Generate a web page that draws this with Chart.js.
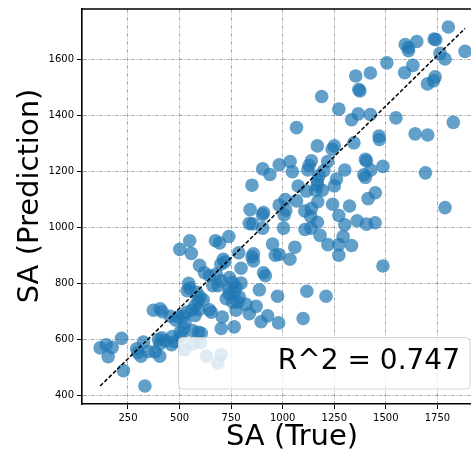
<!DOCTYPE html>
<html>
<head>
<meta charset="utf-8">
<script src="https://cdn.jsdelivr.net/npm/chart.js@4.4.0/dist/chart.umd.min.js"></script>
<style>
  html, body { margin: 0; padding: 0; background: #fff; overflow: hidden; }
  #wrap { width: 490px; height: 458px; }
</style>
</head>
<body>
<div id="wrap"><canvas id="myChart" width="490" height="458"></canvas></div>
<script>
// SA true vs predicted
var trueVals = [
  115, 144, 173, 154, 219, 228, 332, 292, 298, 313, 325, 349, 382, 404, 398, 414, 404, 373, 406, 416,
  455, 465, 477, 433, 482, 494, 501, 549, 557, 515, 526, 533, 520, 503, 509, 544, 550, 537, 583, 599,
  590, 615, 575, 597, 621, 645, 678, 702, 686, 661, 559, 575, 594, 645, 654, 707, 702, 563, 591, 605,
  674, 694, 739, 742, 758, 742, 774, 739, 766, 726, 790, 782, 765, 686, 525, 565, 602, 630, 702, 712,
  700, 719, 787, 858, 858, 851, 951, 1059, 964, 983, 1035, 798, 907, 916, 798, 887, 975, 758, 822, 774,
  838, 871, 927, 895, 980, 1099, 1117, 1210, 1181, 1219, 1293, 1272, 1334, 1272, 1486, 1803, 1594, 1610, 1610, 1650,
  1734, 1742, 1884, 1763, 1787, 1505, 1631, 1591, 1425, 1354, 1739, 1731, 1702, 1369, 1374, 1189, 1272, 1366, 1425, 1334,
  1549, 1827, 1067, 1642, 1703, 1467, 1469, 1345, 1168, 1250, 1240, 1401, 1406, 1139, 1128, 1036, 983, 1218, 903, 1047,
  1122, 1200, 1301, 1427, 1486, 938, 1393, 1401, 1692, 1176, 1168, 851, 1075, 1261, 1250, 1168, 1160, 1192, 1115, 1449,
  1414, 1012, 983, 1015, 1007, 1067, 1170, 1242, 1324, 1107, 1139, 842, 907, 902, 1272, 1136, 1787, 1168, 1361, 1406,
  1448, 1301, 838, 854, 903, 1004, 1108, 1137, 461
]
var predVals = [
  571, 582, 573, 540, 605, 490, 435, 568, 554, 541, 592, 558, 557, 541, 601, 607, 585, 705, 710, 700,
  684, 611, 593, 596, 670, 681, 922, 953, 908, 684, 661, 698, 640, 627, 611, 801, 784, 775, 769, 752,
  740, 742, 722, 865, 839, 828, 834, 810, 793, 793, 705, 687, 707, 707, 698, 681, 640, 633, 627, 623,
  953, 945, 968, 822, 804, 781, 787, 764, 769, 746, 752, 734, 646, 517, 564, 585, 590, 541, 547, 887,
  869, 877, 910, 906, 881, 895, 941, 930, 901, 904, 887, 855, 839, 828, 802, 778, 755, 734, 726, 705,
  693, 719, 685, 664, 660, 676, 773, 755, 972, 939, 968, 939, 936, 901, 863, 1715, 1652, 1642, 1630, 1663,
  1672, 1670, 1628, 1621, 1601, 1587, 1578, 1552, 1551, 1540, 1537, 1523, 1512, 1492, 1487, 1467, 1422, 1405, 1403, 1384,
  1391, 1375, 1356, 1334, 1330, 1326, 1314, 1302, 1291, 1291, 1279, 1243, 1237, 1238, 1221, 1235, 1224, 1235, 1209, 1199,
  1205, 1203, 1205, 1205, 1218, 1189, 1188, 1179, 1195, 1185, 1168, 1151, 1148, 1173, 1148, 1152, 1133, 1133, 1130, 1124,
  1103, 1100, 1080, 1062, 1045, 1095, 1092, 1083, 1077, 1059, 1068, 1064, 1053, 1046, 1043, 1039, 1071, 1019, 1024, 1012,
  1017, 1010, 1015, 1013, 998, 998, 993, 998, 582
]
// fitted line ends
var fitX = [115, 1884]
var fitY = [435, 1710]

var xTicks = [250, 500, 750, 1000, 1250, 1500, 1750]
var yTicks = [400, 600, 800, 1000, 1200, 1400, 1600]
var r2Label = "R^2 = 0.747"
var xTitle = "SA (True)"
var yTitle = "SA (Prediction)"

var FONT = "DejaVu Sans"

var points = []
for (var i = 0; i < trueVals.length; i++) {
  points.push({x: trueVals[i], y: predVals[i]})
}
var fitPoints = []
for (var j = 0; j < fitX.length; j++) {
  fitPoints.push({x: fitX[j], y: fitY[j]})
}

// frame, axis titles and the R^2 box
var extras = {
  id: "extras",
  afterDatasetsDraw: function(chart) {
    var ctx = chart.ctx
    var a = chart.chartArea
    ctx.save()
    ctx.strokeStyle = "#000"
    ctx.lineWidth = 1.6
    ctx.beginPath()
    ctx.moveTo(a.left, a.top)
    ctx.lineTo(a.right, a.top)
    ctx.lineTo(a.right, a.bottom)
    ctx.stroke()

    // legend box
    ctx.beginPath()
    ctx.roundRect(178.5, 337.5, 291.5, 51.5, 4)
    ctx.fillStyle = "rgba(255,255,255,0.8)"
    ctx.fill()
    ctx.strokeStyle = "rgba(204,204,204,0.8)"
    ctx.lineWidth = 1
    ctx.stroke()
    ctx.fillStyle = "#000"
    ctx.font = "28px '" + FONT + "'"
    ctx.textAlign = "right"
    ctx.textBaseline = "middle"
    ctx.fillText(r2Label, 460, 362)

    // axis titles
    ctx.font = "29px '" + FONT + "'"
    ctx.textAlign = "center"
    ctx.fillText(xTitle, 292, 437)
    ctx.translate(30, 196)
    ctx.rotate(-Math.PI / 2)
    ctx.fillText(yTitle, 0, 0)
    ctx.restore()
  }
}

var ctx = document.getElementById("myChart")
var myChart = new Chart(ctx, {
  type: "scatter",
  data: {
    datasets: [{
      type: "line",
      data: fitPoints,
      borderColor: "#000",
      borderWidth: 1.5,
      borderDash: [4, 2],
      pointRadius: 0,
      fill: false
    }, {
      data: points,
      backgroundColor: "rgba(31,119,180,0.7)",
      borderWidth: 0,
      pointRadius: 6.8,
      pointHoverRadius: 6.8
    }]
  },
  options: {
    responsive: false,
    animation: false,
    devicePixelRatio: 1,
    layout: {padding: {left: 0, top: 5, right: 5, bottom: 0}},
    plugins: {legend: {display: false}, tooltip: {enabled: false}},
    scales: {
      x: {
        type: "linear",
        min: 27,
        max: 1972,
        afterBuildTicks: function(scale) {
          scale.ticks = xTicks.map(function(v) { return {value: v} })
        },
        afterFit: function(scale) { scale.height = 54 },
        ticks: {
          font: {family: FONT, size: 10},
          color: "#000",
          padding: 3,
          maxRotation: 0,
          callback: function(v) { return String(v) }
        },
        grid: {color: "rgba(110,110,110,0.7)", lineWidth: 0.8, tickLength: 5, tickColor: "#000", tickWidth: 1},
        border: {color: "#000", width: 1.6, dash: [4, 1.5, 1, 1.5]}
      },
      y: {
        type: "linear",
        min: 371,
        max: 1779,
        afterBuildTicks: function(scale) {
          scale.ticks = yTicks.map(function(v) { return {value: v} })
        },
        afterFit: function(scale) { scale.width = 82 },
        ticks: {
          font: {family: FONT, size: 10},
          color: "#000",
          padding: 3,
          callback: function(v) { return String(v) }
        },
        grid: {color: "rgba(110,110,110,0.7)", lineWidth: 0.8, tickLength: 5, tickColor: "#000", tickWidth: 1},
        border: {color: "#000", width: 1.6, dash: [4, 1.5, 1, 1.5]}
      }
    }
  },
  plugins: [extras]
})
</script>
</body>
</html>
